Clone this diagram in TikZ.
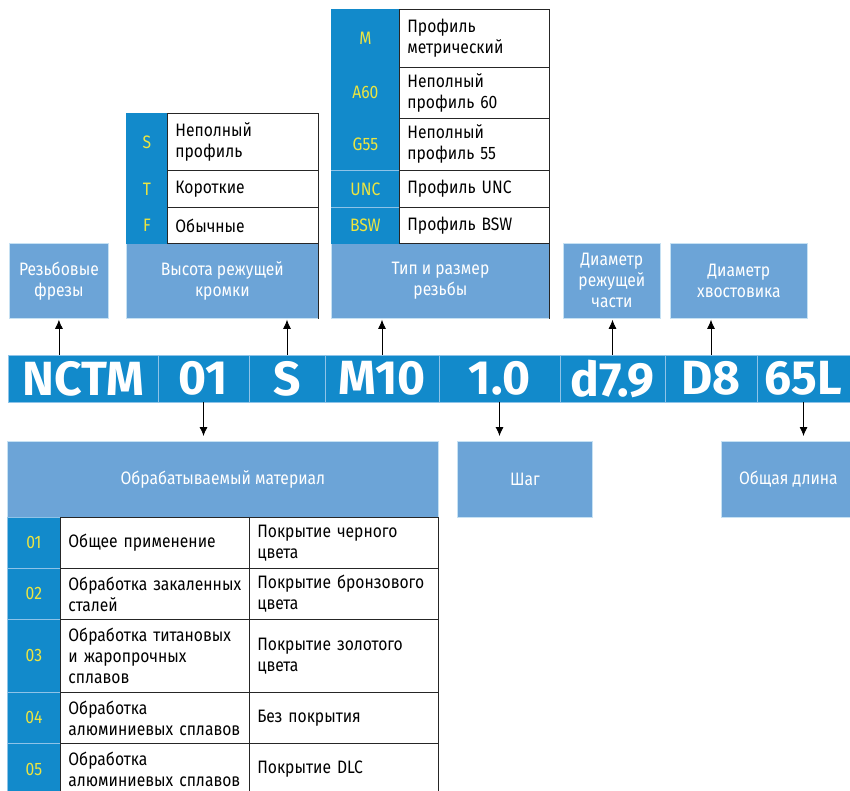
\documentclass[tikz,border=0pt]{standalone}
\usepackage{fontspec}
\setmainfont{Fira Sans}[FakeStretch=0.87]
\newfontfamily\codefont{Fira Sans}
\usetikzlibrary{positioning,arrows.meta}
\definecolor{codeblue}{HTML}{128ACB}
\definecolor{lblblue}{HTML}{6CA4D7}
\definecolor{keyyellow}{HTML}{EDE540}
\definecolor{sepblue}{HTML}{8EC3E8}
\newcommand{\txtfont}{\fontsize{18}{21}\selectfont}

\begin{document}
\begin{tikzpicture}[x=1pt, y=-1pt,
        codebox/.style={rectangle, fill=codeblue, draw=sepblue, line width=0.8pt, minimum height=47pt, inner sep=0pt, text=white, font=\codefont\fontsize{48}{50}\selectfont\bfseries},
        lblbox/.style={rectangle, fill=lblblue, draw=sepblue!50!white, line width=0.8pt, inner sep=0pt, text=white, align=center, font=\txtfont, anchor=north west},
        keycell/.style={rectangle, fill=codeblue, draw=codeblue, line width=0.8pt, inner sep=0pt, text=keyyellow, font=\txtfont, anchor=north west},
        desccell/.style={rectangle, fill=white, draw=black!85, line width=0.8pt, inner sep=0pt, inner xsep=8pt, align=left, font=\txtfont, anchor=north west},
        sepline/.style={draw=sepblue, line width=0.8pt},
        tabline/.style={draw=black!85, line width=0.8pt},
        arr/.style={-{Latex[length=9pt, width=8pt]}, line width=0.8pt}
    ]
        \clip (0,0) rectangle (850,791);

        % Code bar
        \node[codebox, minimum width=150pt] (c-nctm) at (83,378.5) {NCTM};
        \node[codebox, minimum width=91pt] (c-01) at (203.5,378.5) {01};
        \node[codebox, minimum width=76pt] (c-s) at (287,378.5) {S};
        \node[codebox, minimum width=114pt] (c-m10) at (382,378.5) {M10};
        \node[codebox, minimum width=121pt] (c-pitch) at (499.5,378.5) {1.0};
        \node[codebox, minimum width=105pt] (c-d) at (612.5,378.5) {d7.9};
        \node[codebox, minimum width=92pt] (c-dd) at (711,378.5) {D8};
        \node[codebox, minimum width=93pt] (c-len) at (803.5,378.5) {65L};

        % Upper labels
        \node[lblbox, minimum width=99pt, minimum height=75pt] (lbl-type) at (9,243) {Резьбовые\\фрезы};
        \node[lblbox, minimum width=192pt, minimum height=75pt] (lbl-height) at (126,243) {Высота режущей\\кромки};
        \node[lblbox, minimum width=218pt, minimum height=75pt] (lbl-thread) at (331,243) {Тип и размер\\резьбы};
        \node[lblbox, minimum width=97pt, minimum height=75pt] (lbl-dcut) at (563,243) {Диаметр\\режущей\\части};
        \node[lblbox, minimum width=137pt, minimum height=75pt] (lbl-dshank) at (670,243) {Диаметр\\хвостовика};
        \draw[tabline] (lbl-height.north east) -- (lbl-height.south east);
        \draw[tabline] (lbl-thread.north east) -- (lbl-thread.south east);

        % Cutting edge table
        \node[keycell, minimum width=41pt, minimum height=57pt] (k-s) at (126,113) {S};
        \node[keycell, minimum width=41pt, minimum height=37pt] (k-t) at (126,170) {T};
        \node[keycell, minimum width=41pt, minimum height=36pt] (k-f) at (126,207) {F};
        \node[desccell, text width=135pt, minimum height=57pt] (d-s) at (167,113) {Неполный\\профиль};
        \node[desccell, text width=135pt, minimum height=37pt] (d-t) at (167,170) {Короткие};
        \node[desccell, text width=135pt, minimum height=36pt] (d-f) at (167,207) {Обычные};

        % Thread table
        \node[keycell, minimum width=68pt, minimum height=58pt] (k-m) at (331,9) {M};
        \node[keycell, minimum width=68pt, minimum height=51pt] (k-a60) at (331,67) {A60};
        \node[keycell, minimum width=68pt, minimum height=52pt] (k-g55) at (331,118) {G55};
        \node[keycell, minimum width=68pt, minimum height=37pt] (k-unc) at (331,170) {UNC};
        \node[keycell, minimum width=68pt, minimum height=36pt] (k-bsw) at (331,207) {BSW};
        \draw[sepline] (k-unc.north west) -- (k-unc.north east);
        \draw[sepline] (k-bsw.north west) -- (k-bsw.north east);
        \node[desccell, text width=134pt, minimum height=58pt] (d-m) at (399,9) {Профиль\\метрический};
        \node[desccell, text width=134pt, minimum height=51pt] (d-a60) at (399,67) {Неполный\\профиль 60};
        \node[desccell, text width=134pt, minimum height=52pt] (d-g55) at (399,118) {Неполный\\профиль 55};
        \node[desccell, text width=134pt, minimum height=37pt] (d-unc) at (399,170) {Профиль UNC};
        \node[desccell, text width=134pt, minimum height=36pt] (d-bsw) at (399,207) {Профиль BSW};

        % Lower labels
        \node[lblbox, minimum width=431pt, minimum height=76pt] (lbl-mat) at (7,441) {Обрабатываемый материал};
        \node[lblbox, minimum width=135pt, minimum height=76pt] (lbl-pitch) at (457,441) {Шаг};
        \node[lblbox, minimum width=134pt, minimum height=76pt] (lbl-len) at (721,441) {Общая длина};

        % Material table
        \node[keycell, draw=sepblue, minimum width=53pt, minimum height=51pt] (k-01) at (7,517) {01};
        \node[keycell, draw=sepblue, minimum width=53pt, minimum height=51pt] (k-02) at (7,568) {02};
        \node[keycell, draw=sepblue, minimum width=53pt, minimum height=73pt] (k-03) at (7,619) {03};
        \node[keycell, draw=sepblue, minimum width=53pt, minimum height=51pt] (k-04) at (7,692) {04};
        \node[keycell, draw=sepblue, minimum width=53pt, minimum height=52pt] (k-05) at (7,743) {05};
        \node[desccell, text width=173pt, minimum height=51pt] (m-01) at (60,517) {Общее применение};
        \node[desccell, text width=173pt, minimum height=51pt] (m-02) at (60,568) {Обработка закаленных\\сталей};
        \node[desccell, text width=173pt, minimum height=73pt] (m-03) at (60,619) {Обработка титановых\\и жаропрочных\\сплавов};
        \node[desccell, text width=173pt, minimum height=51pt] (m-04) at (60,692) {Обработка\\алюминиевых сплавов};
        \node[desccell, text width=173pt, minimum height=52pt] (m-05) at (60,743) {Обработка\\алюминиевых сплавов};
        \node[desccell, text width=173pt, minimum height=51pt] (p-01) at (249,517) {Покрытие черного\\цвета};
        \node[desccell, text width=173pt, minimum height=51pt] (p-02) at (249,568) {Покрытие бронзового\\цвета};
        \node[desccell, text width=173pt, minimum height=73pt] (p-03) at (249,619) {Покрытие золотого\\цвета};
        \node[desccell, text width=173pt, minimum height=51pt] (p-04) at (249,692) {Без покрытия};
        \node[desccell, text width=173pt, minimum height=52pt] (p-05) at (249,743) {Покрытие DLC};

        % Arrows up
        \draw[arr, shorten >=1pt] (c-nctm.north -| lbl-type.south) -- (lbl-type.south);
        \draw[arr, shorten >=1pt] (c-s.north) -- (c-s.north |- lbl-height.south);
        \draw[arr, shorten >=1pt] (c-m10.north) -- (c-m10.north |- lbl-thread.south);
        \draw[arr, shorten >=1pt] (c-d.north) -- (c-d.north |- lbl-dcut.south);
        \draw[arr, shorten >=1pt] (c-dd.north) -- (c-dd.north |- lbl-dshank.south);

        % Arrows down
        \draw[arr, shorten >=5pt] (c-01.south) -- (c-01.south |- lbl-mat.north);
        \draw[arr, shorten >=5pt] (c-pitch.south) -- (c-pitch.south |- lbl-pitch.north);
        \draw[arr, shorten >=5pt] (c-len.south) -- (c-len.south |- lbl-len.north);
    \end{tikzpicture}
\end{document}
